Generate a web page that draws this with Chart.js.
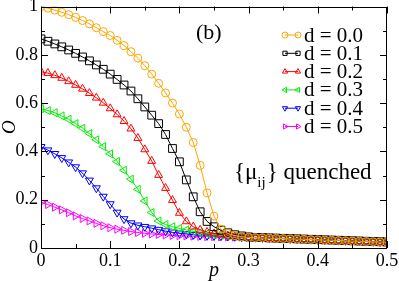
<!DOCTYPE html>
<html>
<head>
<meta charset="utf-8">
<script src="https://cdn.jsdelivr.net/npm/chart.js"></script>
<style>
  html, body { margin: 0; padding: 0; background: #fff; }
  canvas { display: block; }
</style>
</head>
<body>
<canvas id="orderChart" width="399" height="281"></canvas>
<script>
//////////////////
// O vs p, {mu_ij} quenched

var pValues = [0,0.01,0.02,0.03,0.04,0.05,0.06,0.07,0.08,0.09,0.10,0.11,0.12,0.13,0.14,0.15,0.16,0.17,0.18,0.19,0.20,0.21,0.22,0.23,0.24,0.25,0.26,0.27,0.28,0.29,0.30,0.31,0.32,0.33,0.34,0.35,0.36,0.37,0.38,0.39,0.40,0.41,0.42,0.43,0.44,0.45,0.46,0.47,0.48,0.49,0.50];

var d00 = [1.000,0.993,0.985,0.976,0.966,0.955,0.942,0.928,0.912,0.896,0.880,0.860,0.838,0.813,0.786,0.755,0.720,0.682,0.642,0.600,0.555,0.500,0.437,0.342,0.228,0.132,0.078,0.060,0.052,0.047,0.044,0.043,0.042,0.041,0.040,0.039,0.038,0.037,0.036,0.035,0.034,0.033,0.032,0.031,0.030,0.029,0.028,0.027,0.026,0.025,0.024];
var d01 = [0.866,0.856,0.845,0.833,0.820,0.806,0.791,0.775,0.758,0.740,0.720,0.698,0.675,0.650,0.618,0.584,0.550,0.515,0.470,0.412,0.357,0.282,0.212,0.150,0.110,0.088,0.074,0.063,0.055,0.050,0.046,0.044,0.043,0.042,0.041,0.040,0.039,0.038,0.037,0.036,0.035,0.034,0.033,0.032,0.031,0.030,0.029,0.028,0.027,0.026,0.025];
var d02 = [0.730,0.724,0.715,0.704,0.690,0.675,0.659,0.641,0.622,0.601,0.578,0.553,0.525,0.494,0.455,0.408,0.360,0.302,0.248,0.198,0.145,0.110,0.088,0.075,0.066,0.060,0.055,0.051,0.048,0.046,0.044,0.043,0.042,0.041,0.040,0.039,0.038,0.037,0.036,0.035,0.034,0.033,0.032,0.031,0.030,0.029,0.028,0.027,0.026,0.025,0.024];
var d03 = [0.577,0.569,0.560,0.547,0.533,0.515,0.496,0.474,0.448,0.420,0.390,0.358,0.322,0.285,0.243,0.195,0.147,0.112,0.097,0.088,0.081,0.075,0.069,0.064,0.060,0.056,0.053,0.050,0.048,0.046,0.044,0.043,0.042,0.041,0.040,0.039,0.038,0.037,0.036,0.035,0.034,0.033,0.032,0.031,0.030,0.029,0.028,0.027,0.026,0.025,0.024];
var d04 = [0.419,0.405,0.390,0.373,0.355,0.335,0.310,0.280,0.248,0.213,0.182,0.147,0.120,0.103,0.094,0.088,0.082,0.076,0.070,0.065,0.061,0.058,0.055,0.053,0.051,0.050,0.049,0.048,0.047,0.045,0.044,0.043,0.042,0.041,0.040,0.039,0.038,0.037,0.036,0.035,0.034,0.033,0.032,0.031,0.030,0.029,0.028,0.027,0.026,0.025,0.024];
var d05 = [0.190,0.180,0.169,0.158,0.146,0.133,0.122,0.112,0.102,0.092,0.084,0.078,0.073,0.068,0.064,0.061,0.058,0.056,0.054,0.052,0.051,0.050,0.049,0.048,0.047,0.047,0.046,0.046,0.045,0.045,0.044,0.043,0.042,0.041,0.040,0.039,0.038,0.037,0.036,0.035,0.034,0.033,0.032,0.031,0.030,0.029,0.028,0.027,0.026,0.025,0.024];

var seriesValues = [d00, d01, d02, d03, d04, d05];
var seriesLabels = ["d = 0.0","d = 0.1","d = 0.2","d = 0.3","d = 0.4","d = 0.5"];
var seriesColors = ["#FFA500","#000000","#FF0000","#00EE00","#0000FF","#FF00FF"];
var seriesMarkers = ["circle","rect","triangle","triangle","triangle","triangle"];
var seriesRotation = [0,0,0,270,180,90];
var seriesRadius = [4,5.5,4.6,4.6,4.6,4.6];

var xTicks = [0,0.1,0.2,0.3,0.4,0.5];
var yTicks = [0,0.2,0.4,0.6,0.8,1];

var serif = "'Liberation Serif', 'DejaVu Serif', serif";

function fmtTick(v) {
  if (Math.abs(v) < 1e-9) return "0";
  if (Math.abs(v - 1) < 1e-9) return "1";
  return v.toFixed(1);
}

var datasets = seriesValues.map(function (vals, k) {
  return {
    label: seriesLabels[k],
    data: pValues.map(function (p, i) { return {x: p, y: vals[i]}; }),
    borderColor: seriesColors[k],
    borderWidth: 1,
    pointStyle: seriesMarkers[k],
    pointRotation: seriesRotation[k],
    pointRadius: seriesRadius[k],
    pointBorderColor: seriesColors[k],
    pointBackgroundColor: "rgba(0,0,0,0)",
    pointBorderWidth: 1,
    tension: 0,
    fill: false
  };
});

// small marker helper for the legend
function drawMarker(ctx, style, rot, r, x, y) {
  ctx.beginPath();
  if (style === "circle") {
    ctx.arc(x, y, r, 0, Math.PI * 2);
  } else if (style === "rect") {
    var s = r * Math.SQRT1_2;
    ctx.rect(x - s, y - s, 2 * s, 2 * s);
  } else {
    var a = rot * Math.PI / 180;
    for (var j = 0; j < 3; j++) {
      var px = x + Math.sin(a) * r, py = y - Math.cos(a) * r;
      if (j === 0) ctx.moveTo(px, py); else ctx.lineTo(px, py);
      a += 2 * Math.PI / 3;
    }
    ctx.closePath();
  }
  ctx.stroke();
}

var framePlugin = {
  id: "frame",
  afterDraw: function (chart) {
    var ctx = chart.ctx, a = chart.chartArea;
    var xs = chart.scales.x, ys = chart.scales.y;
    ctx.save();
    ctx.strokeStyle = "#000";
    ctx.lineWidth = 1;
    ctx.strokeRect(Math.round(a.left) + 0.5, Math.round(a.top) + 0.5, Math.round(a.right - a.left) - 1, Math.round(a.bottom - a.top) - 1);

    // inward ticks on all four sides
    ctx.beginPath();
    for (var v = 0; v <= 0.5001; v += 0.05) {
      var len = (Math.round(v * 100) % 10 === 0) ? 7 : 4;
      var px = Math.round(xs.getPixelForValue(v)) + 0.5;
      ctx.moveTo(px, a.bottom); ctx.lineTo(px, a.bottom - len);
      ctx.moveTo(px, a.top); ctx.lineTo(px, a.top + len);
    }
    for (var w = 0; w <= 1.0001; w += 0.1) {
      var len2 = (Math.round(w * 10) % 2 === 0) ? 7 : 4;
      var py = Math.round(ys.getPixelForValue(w)) + 0.5;
      ctx.moveTo(a.left, py); ctx.lineTo(a.left + len2, py);
      ctx.moveTo(a.right, py); ctx.lineTo(a.right - len2, py);
    }
    ctx.stroke();

    // legend inside the plot
    ctx.font = "21px " + serif;
    ctx.textBaseline = "middle";
    ctx.textAlign = "left";
    for (var k = 0; k < seriesLabels.length; k++) {
      var ly = 35 + k * 18.3;
      ctx.strokeStyle = seriesColors[k];
      ctx.beginPath();
      ctx.moveTo(285, ly); ctx.lineTo(298, ly);
      ctx.stroke();
      drawMarker(ctx, seriesMarkers[k], seriesRotation[k], 3, 285, ly);
      drawMarker(ctx, seriesMarkers[k], seriesRotation[k], 3, 298, ly);
      ctx.fillStyle = "#000";
      ctx.fillText(seriesLabels[k], 304, ly + 1);
    }

    // panel tag and annotation
    ctx.fillStyle = "#000";
    ctx.font = "22px " + serif;
    ctx.textBaseline = "alphabetic";
    ctx.fillText("(b)", 196, 39);

    ctx.font = "23px " + serif;
    var tx = 234, ty = 179;
    ctx.fillText("{\u03bc", tx, ty);
    tx += ctx.measureText("{\u03bc").width;
    ctx.font = "15px " + serif;
    ctx.fillText("ij", tx, ty + 8);
    tx += ctx.measureText("ij").width + 1;
    ctx.font = "23px " + serif;
    ctx.fillText("} quenched", tx, ty);
    ctx.restore();
  }
};

var ctxOrder = document.getElementById("orderChart").getContext("2d");
var chartOrder = new Chart(ctxOrder, {
  type: "line",
  data: { datasets: datasets },
  plugins: [framePlugin],
  options: {
    responsive: false,
    animation: false,
    devicePixelRatio: 1,
    layout: { padding: { left: 0, right: 12, top: 6, bottom: 0 } },
    plugins: { legend: { display: false }, tooltip: { enabled: false } },
    scales: {
      x: {
        type: "linear",
        min: 0, max: 0.5,
        afterBuildTicks: function (s) { s.ticks = xTicks.map(function (v) { return {value: v}; }); },
        afterFit: function (s) { s.height = 33; s.paddingLeft = 0; s.paddingRight = 0; },
        grid: { display: false, drawTicks: false },
        border: { display: false },
        ticks: { color: "#000", padding: 2, maxRotation: 0, autoSkip: false, font: { family: serif, size: 18 }, callback: fmtTick },
        title: { display: true, text: "p", color: "#000", padding: 0, font: { family: serif, size: 20, style: "italic", lineHeight: 1 } }
      },
      y: {
        min: 0, max: 1,
        afterBuildTicks: function (s) { s.ticks = yTicks.map(function (v) { return {value: v}; }); },
        afterFit: function (s) { s.width = 41; s.paddingTop = 0; s.paddingBottom = 0; },
        grid: { display: false, drawTicks: false },
        border: { display: false },
        ticks: { color: "#000", padding: 3, autoSkip: false, font: { family: serif, size: 18 }, callback: fmtTick },
        title: { display: true, text: "O", color: "#000", padding: 0, font: { family: serif, size: 19, style: "italic", lineHeight: 1 } }
      }
    }
  }
});
</script>
</body>
</html>
